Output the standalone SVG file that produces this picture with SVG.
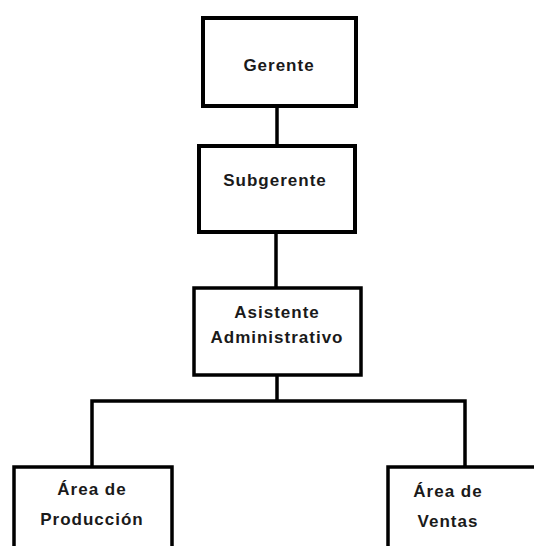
<svg xmlns="http://www.w3.org/2000/svg" width="534" height="546" viewBox="0 0 534 546">
<style>
.box{fill:#fff;stroke:#000;stroke-width:4}
.thin{stroke-width:3.5}
.t{font-family:"Liberation Sans",Arial,sans-serif;font-weight:bold;font-size:17px;letter-spacing:1px;fill:#1a1a1a;text-anchor:middle}
.c{fill:none;stroke:#000;stroke-width:3.5}
</style>
<rect width="534" height="546" fill="#fff"/>
<g id="connectors">
<line class="c" x1="277" y1="105" x2="277" y2="145"/>
<line class="c" x1="276" y1="232" x2="276" y2="288"/>
<line class="c" x1="277" y1="375" x2="277" y2="401"/>
<polyline class="c" points="92,467 92,401 465,401 465,467"/>
</g>
<g id="gerente">
<rect class="box" x="203" y="18" width="153" height="88"/>
<text class="t" x="279" y="71">Gerente</text>
</g>
<g id="subgerente">
<rect class="box" x="199" y="146" width="156" height="86"/>
<text class="t" x="275" y="186">Subgerente</text>
</g>
<g id="asistente">
<rect class="box thin" x="194" y="288" width="167" height="87"/>
<text class="t" x="277" y="318">Asistente</text>
<text class="t" x="277" y="343">Administrativo</text>
</g>
<g id="produccion">
<rect class="box thin" x="14" y="467" width="158" height="90"/>
<text class="t" x="92" y="495">Área de</text>
<text class="t" x="92" y="525">Producción</text>
</g>
<g id="ventas">
<rect class="box thin" x="388" y="467" width="160" height="90"/>
<text class="t" x="448" y="497">Área de</text>
<text class="t" x="448" y="527">Ventas</text>
</g>
</svg>
